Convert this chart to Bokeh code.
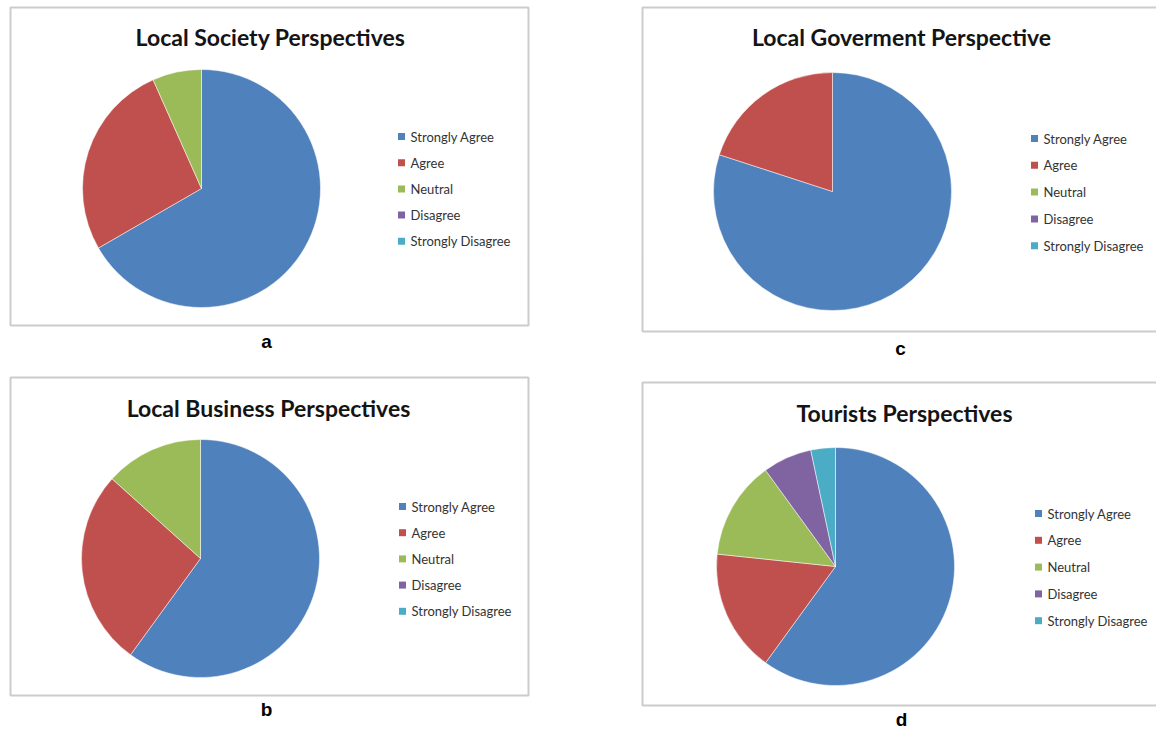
import numpy as np
from bokeh.plotting import figure
from bokeh.models import Range1d, ColumnDataSource
from bokeh.core.properties import value
from bokeh.embed import file_html
from bokeh.resources import INLINE

# ---------------- data ----------------
categories = ["Strongly Agree", "Agree", "Neutral", "Disagree", "Strongly Disagree"]
colors = ["#4F81BD", "#C0504D", "#9BBB59", "#8064A2", "#4BACC6"]

society = [10, 4, 1, 0, 0]
business = [9, 4, 2, 0, 0]
government = [12, 3, 0, 0, 0]
tourists = [18, 5, 4, 2, 1]

titles = ["Local Society Perspectives", "Local Business Perspectives",
          "Local Goverment Perspective", "Tourists Perspectives"]
panel_labels = ["a", "b", "c", "d"]
series = [society, business, government, tourists]

# ---------------- layout (page pixels) ----------------
W, H = 1156, 729


def Y(y):
    return H - y


panels = [
    dict(box=(10, 528, 7, 325), title=(270, 36), center=(201, 188),
         legend=(401, 136, 26.2), label=(266, 341)),
    dict(box=(10, 528, 377, 695), title=(268, 407), center=(200, 558),
         legend=(402, 506, 26.2), label=(266, 709)),
    dict(box=(642, 1170, 7, 331), title=(901, 36), center=(832, 191),
         legend=(1034, 138, 26.8), label=(900, 348)),
    dict(box=(642, 1170, 382, 705), title=(904, 412), center=(835, 566),
         legend=(1038, 513, 26.8), label=(901, 719)),
]
RADIUS = 119

p = figure(width=W, height=H, output_backend="svg", toolbar_location=None,
           x_range=Range1d(0, W), y_range=Range1d(0, H), min_border=0)
p.axis.visible = False
p.grid.visible = False
p.outline_line_color = None
p.background_fill_color = "white"
p.border_fill_color = "white"

title_font = value("Lato")
legend_font = value("Lato")

for panel, vals, title, lab in zip(panels, series, titles, panel_labels):
    l, r, t, b = panel["box"]
    p.quad(left=[l], right=[r], top=[Y(t)], bottom=[Y(b)],
           fill_color="white", line_color="#cccccc", line_width=2)

    v = np.array(vals, dtype=float)
    frac = v / v.sum()
    cum = np.concatenate([[0.0], np.cumsum(frac)])
    start = np.pi / 2 - 2 * np.pi * cum[:-1]
    end = np.pi / 2 - 2 * np.pi * cum[1:]
    keep = v > 0
    cx, cy = panel["center"]
    src = ColumnDataSource(dict(
        x=[cx] * int(keep.sum()), y=[Y(cy)] * int(keep.sum()),
        start=list(start[keep]), end=list(end[keep]),
        color=[c for c, k in zip(colors, keep) if k],
    ))
    p.wedge(x="x", y="y", radius=RADIUS, start_angle="start", end_angle="end",
            direction="clock", fill_color="color", line_color="white",
            line_width=0.5, source=src)

    tx, ty = panel["title"]
    p.text(x=[tx], y=[Y(ty)], text=[title], text_font=title_font,
           text_font_style="bold", text_font_size="23px", text_color="#141414",
           text_align="center", text_baseline="middle")

    lx, ly, dy = panel["legend"]
    ys = [Y(ly + i * dy) for i in range(len(categories))]
    p.scatter(x=[lx] * len(categories), y=ys, marker="square", size=7,
              fill_color=colors, line_color=None)
    p.text(x=[lx + 9] * len(categories), y=ys, text=categories,
           text_font=legend_font, text_font_size="13px", text_color="#333333",
           text_align="left", text_baseline="middle")

    ax, ay = panel["label"]
    p.text(x=[ax], y=[Y(ay)], text=[lab], text_font=value("Liberation Sans"),
           text_font_style="bold", text_font_size="19px", text_color="black",
           text_align="center", text_baseline="middle")

open("out.html", "w").write(file_html(p, INLINE))
